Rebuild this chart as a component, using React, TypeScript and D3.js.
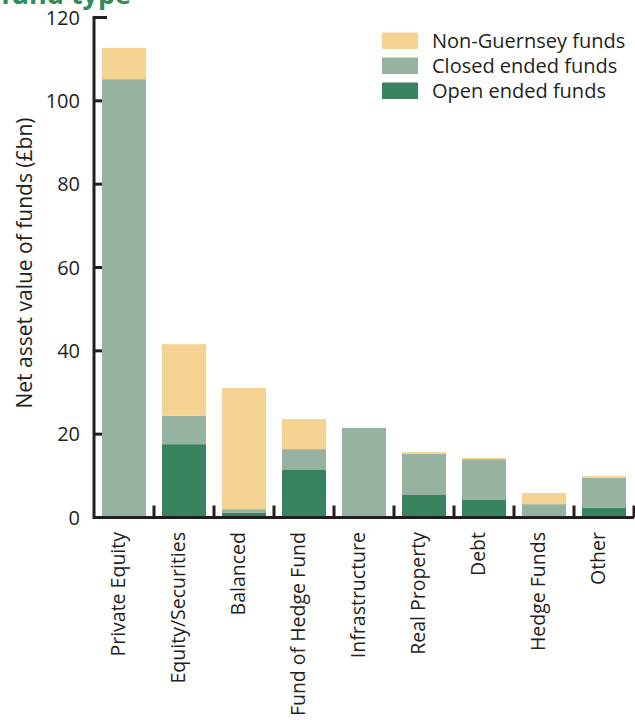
import React from "react";
import * as d3 from "d3";

const categories = [
  "Private Equity",
  "Equity/Securities",
  "Balanced",
  "Fund of Hedge Fund",
  "Infrastructure",
  "Real Property",
  "Debt",
  "Hedge Funds",
  "Other",
];
const openEnded = [0.3, 17.6, 1.1, 11.4, 0.3, 5.4, 4.2, 0.3, 2.3];
const closedEnded = [104.9, 6.8, 0.9, 5.0, 21.2, 9.9, 9.8, 2.9, 7.2];
const nonGuernsey = [7.5, 17.2, 29.1, 7.2, 0, 0.4, 0.3, 2.7, 0.5];
const yTicks = [0, 20, 40, 60, 80, 100, 120];
const seriesKeys = ["open", "closed", "non"];
const seriesLabels = ["Open ended funds", "Closed ended funds", "Non-Guernsey funds"];
const seriesColors = ["#37825f", "#95b3a0", "#f5d393"];

const W = 635;
const H = 720;
const x0 = 94;
const x1 = 634;
const yTop = 17.5;
const yBottom = 517.5;

export default function App() {
  const x = d3
    .scaleBand<string>()
    .domain(categories)
    .range([x0, x1])
    .paddingInner(0.2667)
    .paddingOuter(0.1333);
  const step = (x1 - x0) / categories.length;
  const y = d3.scaleLinear().domain([0, 120]).range([yBottom, yTop]);

  const table = categories.map((c, i) => ({
    cat: c,
    open: openEnded[i],
    closed: closedEnded[i],
    non: nonGuernsey[i],
  }));
  const stacked = d3.stack<any>().keys(seriesKeys)(table);

  const font = "'Open Sans', sans-serif";

  return (
    <svg
      width={W}
      height={H}
      style={{ position: "absolute", left: 0, top: 0, background: "#fff" }}
      fontFamily={font}
    >
      <text x={131} y={4} textAnchor="end" fontSize={27} fontWeight="bold" fill="#2e8b5a">
        by fund type
      </text>

      {/* y-axis ticks */}
      {yTicks.map((t) => (
        <g key={t}>
          <line x1={x0} x2={x0 + 13} y1={y(t)} y2={y(t)} stroke="#231f20" strokeWidth={3} />
          <text
            x={80}
            y={y(t)}
            dy="0.35em"
            textAnchor="end"
            fontSize={20}
            fill="#231f20"
          >
            {t}
          </text>
        </g>
      ))}

      {/* bars */}
      {stacked.map((s, si) => (
        <g key={s.key} fill={seriesColors[si]}>
          {s.map((d, i) => {
            const h = y(d[0]) - y(d[1]);
            if (h <= 0) return null;
            return (
              <rect
                key={i}
                x={x(categories[i])}
                y={y(d[1])}
                width={x.bandwidth()}
                height={h}
              />
            );
          })}
        </g>
      ))}

      {/* axes */}
      <line x1={x0} x2={x0} y1={y(120) - 1.5} y2={yBottom + 1.5} stroke="#231f20" strokeWidth={3} />
      <line x1={x0} x2={x1} y1={yBottom} y2={yBottom} stroke="#231f20" strokeWidth={3} />
      {categories.map((c, i) => (
        <line
          key={c}
          x1={x0 + step * (i + 1)}
          x2={x0 + step * (i + 1)}
          y1={yBottom}
          y2={yBottom - 12}
          stroke="#231f20"
          strokeWidth={3}
        />
      ))}

      {/* x labels */}
      {categories.map((c) => (
        <text
          key={c}
          transform={`translate(${(x(c) as number) + x.bandwidth() / 2 + 1},${532}) rotate(-90)`}
          textAnchor="end"
          fontSize={19.5}
          fill="#231f20"
        >
          {c}
        </text>
      ))}

      {/* y title */}
      <text
        transform={`translate(32,263) rotate(-90)`}
        textAnchor="middle"
        fontSize={21}
        fill="#231f20"
      >
        Net asset value of funds (£bn)
      </text>

      {/* legend */}
      {[2, 1, 0].map((si, r) => (
        <g key={si} transform={`translate(382,${32.5 + r * 25})`}>
          <rect width={36} height={16.5} fill={seriesColors[si]} />
          <text x={50} y={8.5} dy="0.35em" fontSize={20} fill="#231f20">
            {seriesLabels[si]}
          </text>
        </g>
      ))}
    </svg>
  );
}
